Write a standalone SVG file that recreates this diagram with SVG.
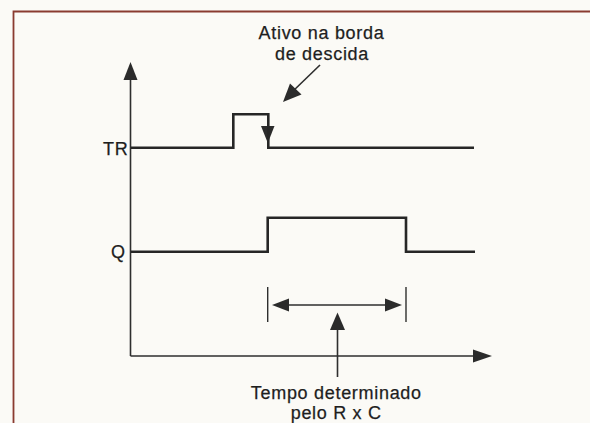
<svg xmlns="http://www.w3.org/2000/svg" width="590" height="423" viewBox="0 0 590 423">
<style>
.wave{fill:none;stroke:#262626;stroke-width:2.6;stroke-linejoin:miter}
.axis{fill:none;stroke:#2e2e2e;stroke-width:1.6}
.thin{fill:none;stroke:#2e2e2e;stroke-width:1.4}
.head{fill:#2b2b2b;stroke:none}
text{font-family:"Liberation Sans",Arial,sans-serif;font-size:18px;letter-spacing:0.7px;fill:#1e1e1e;stroke:#1e1e1e;stroke-width:0.25}
</style>
<rect x="0" y="0" width="590" height="423" fill="#fbfaf6"/>
<path d="M13.5 423 V11.5 H590" fill="none" stroke="#8a3b30" stroke-width="1.8"/>
<g id="connectors">
<g id="y-axis">
<line class="axis" x1="130.5" y1="356" x2="130.5" y2="76"/>
<polygon class="head" points="130.5,62 123.5,80 137.5,80"/>
</g>
<g id="x-axis">
<line class="axis" x1="130.5" y1="356" x2="478" y2="356"/>
<polygon class="head" points="492,356 473,349.5 473,362.5"/>
</g>
<g id="annot-arrow">
<line class="axis" x1="320" y1="65" x2="291" y2="93"/>
<polygon class="head" points="283,102 290,83.5 301.5,94.5"/>
</g>
<g id="edge-arrow">
<polygon class="head" points="261,126 274.5,126 267.8,143"/>
</g>
<g id="duration">
<line class="thin" x1="267.7" y1="287" x2="267.7" y2="322"/>
<line class="thin" x1="406" y1="287" x2="406" y2="322"/>
<line class="thin" x1="285" y1="305" x2="389" y2="305"/>
<polygon class="head" points="272,305 289,298.5 289,311.5"/>
<polygon class="head" points="402,305 385,298.5 385,311.5"/>
</g>
<g id="time-arrow">
<line class="axis" x1="337.5" y1="326" x2="337.5" y2="377"/>
<polygon class="head" points="337.5,312.5 330,330 345,330"/>
</g>
</g>
<g id="TR">
<polyline class="wave" points="131,147.7 233.3,147.7 233.3,114.3 268.3,114.3 268.3,147.7 474,147.7"/>
<text x="103" y="155">TR</text>
</g>
<g id="Q">
<polyline class="wave" points="131,251.7 267.7,251.7 267.7,217.7 406,217.7 406,251.7 475,251.7"/>
<text x="111" y="258">Q</text>
</g>
<g id="label-top">
<text x="321.5" y="39" text-anchor="middle">Ativo na borda</text>
<text x="322" y="59.5" text-anchor="middle">de descida</text>
</g>
<g id="label-bottom">
<text x="336.3" y="398.5" text-anchor="middle">Tempo determinado</text>
<text x="336.2" y="419" text-anchor="middle">pelo R x C</text>
</g>
</svg>
